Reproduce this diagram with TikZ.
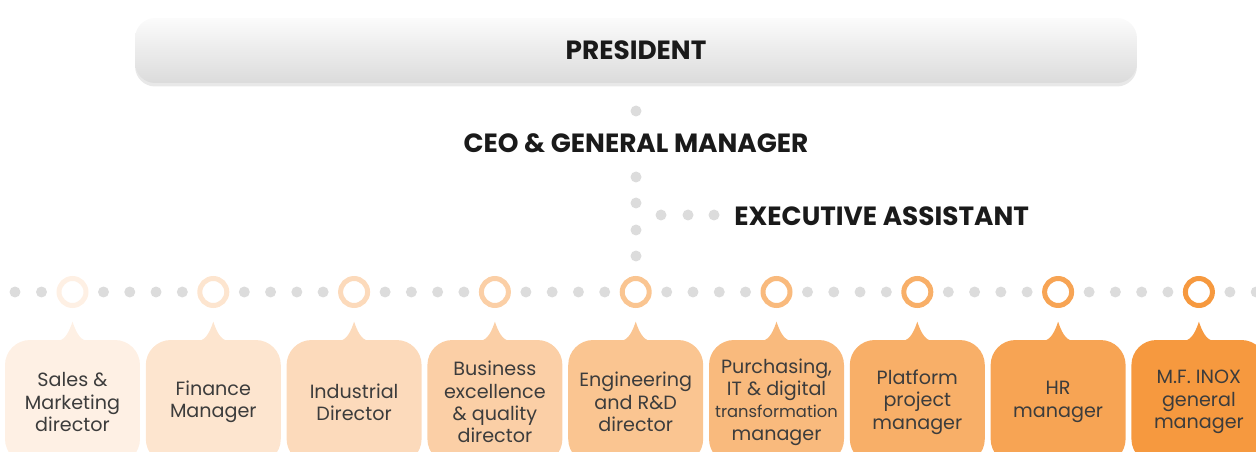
\documentclass[tikz,border=0pt]{standalone}
\usepackage{fontspec}
\setmainfont{Poppins}
\usetikzlibrary{calc}
\usetikzlibrary{positioning}
\usetikzlibrary{shadows}
\definecolor{peachlight}{HTML}{FEF0E4}
\definecolor{peachdark}{HTML}{F6993F}
\definecolor{dotgrey}{HTML}{DCDCDC}
\definecolor{textgrey}{HTML}{3C3C3C}
\definecolor{headblack}{HTML}{1A1A1A}
\tikzset{
	dot/.style={circle, fill=dotgrey, minimum size=0.22cm, inner sep=0pt},
	ring/.style={circle, draw, line width=0.1cm, fill=white, minimum size=0.54cm, inner sep=0pt},
	bubble/.style={rounded corners=0.5cm, minimum width=2.7cm, minimum height=2.48cm, inner sep=0pt, align=center, text=textgrey, font=\fontsize{10.9}{12.7}\selectfont},
	head/.style={inner sep=0pt, text=headblack, font=\fontsize{15}{18}\selectfont\bfseries}
}

\begin{document}
\begin{tikzpicture}[x=0.02cm, y=-0.02cm]
				\useasboundingbox (0,0) rectangle (1256,452);
				\clip (0,0) rectangle (1256,452);
				\node[head, rounded corners=0.4cm, minimum width=20.04cm, minimum height=1.3cm, top color=gray!3, bottom color=gray!28, drop shadow={shadow xshift=0cm, shadow yshift=-0.07cm, opacity=0.18}] (president) at (636,50.5) {PRESIDENT};
				\node[head] (ceo) at (636,143) {CEO \& GENERAL MANAGER};
				\node[head, anchor=west] (assistant) at (734,216) {EXECUTIVE ASSISTANT};
				
				\foreach \y in {111,177,203,230,256}
					\node[dot] at (636,\y) {};
				\foreach \x in {661,688,714}
					\node[dot] at (\x,215) {};
				\foreach \x in {15,41.5}
					\node[dot] at (\x,292) {};
				
				\foreach \txt [count=\n from 0, evaluate=\n as \p using 12.5*\n, evaluate=\n as \x using 72.5+140.8*\n] in
					{{Sales \&\\Marketing\\director},
					 {Finance\\Manager},
					 {Industrial\\Director},
					 {Business\\excellence\\\& quality\\director},
					 {Engineering\\and R\&D\\director},
					 {Purchasing,\\IT \& digital\\{\fontsize{9.3}{12.7}\selectfont transformation}\\manager},
					 {Platform\\project\\manager},
					 {HR\\manager},
					 {M.F. INOX\\general\\manager}}
				{
					\node[ring, draw=peachdark!\p!peachlight] (r\n) at (\x,292) {};
					\foreach \k in {0,...,3}
						\node[dot] at (\x+31+26.27*\k,292) {};
					\node[bubble, fill=peachdark!\p!peachlight] (b\n) at (\x,402) {\txt};
					\fill[peachdark!\p!peachlight] ($(b\n.north)+(-14,1)$) .. controls ($(b\n.north)+(-7,0)$) and ($(b\n.north)+(-3,-9)$) .. ($(b\n.north)+(0,-18)$) .. controls ($(b\n.north)+(3,-9)$) and ($(b\n.north)+(7,0)$) .. ($(b\n.north)+(14,1)$) -- cycle;
				}
			\end{tikzpicture}
\end{document}
